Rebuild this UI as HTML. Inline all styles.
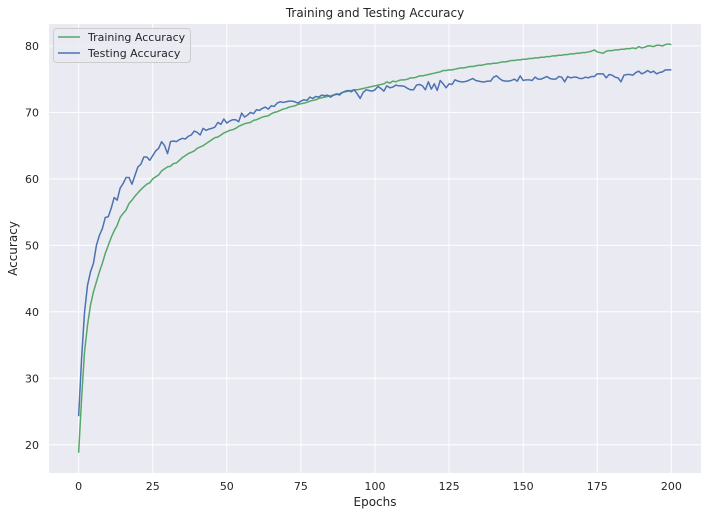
<!DOCTYPE html>
<html><head><meta charset="utf-8"><style>
body{margin:0;background:#fff;}
svg text{font-family:"DejaVu Sans","Liberation Sans",sans-serif;fill:#262626;}
</style></head><body>
<svg id="chart" width="707" height="516" xmlns="http://www.w3.org/2000/svg"></svg>
<script>
const xTicks=[0,25,50,75,100,125,150,175,200];
const yTicks=[20,30,40,50,60,70,80];
const train=[18.8,27,34,38,41,43,44.5,46,47.3,48.8,
50,51.2,52.2,53,54.2,54.8,55.3,56.3,56.8,57.4,
57.9,58.4,58.8,59.2,59.4,60,60.3,60.6,61.2,61.5,
61.8,61.9,62.3,62.4,62.8,63.2,63.5,63.8,64,64.2,
64.6,64.8,65,65.3,65.6,65.9,66.2,66.3,66.6,66.9,
67.1,67.3,67.4,67.6,67.9,68.1,68.3,68.4,68.5,68.8,
68.9,69.1,69.3,69.4,69.5,69.8,70.0,70.1,70.3,70.5,
70.6,70.8,70.9,71.0,71.2,71.3,71.4,71.5,71.7,71.8,
71.9,72.1,72.2,72.3,72.4,72.5,72.6,72.7,72.8,73.0,
73.1,73.2,73.3,73.4,73.4,73.5,73.6,73.7,73.8,73.9,
74.0,74.1,74.2,74.3,74.6,74.4,74.7,74.6,74.8,74.9,
74.9,75.0,75.2,75.2,75.3,75.5,75.5,75.6,75.7,75.8,
75.9,76.0,76.1,76.3,76.3,76.4,76.4,76.5,76.6,76.7,
76.7,76.8,76.9,76.9,77.0,77.1,77.1,77.2,77.3,77.3,
77.4,77.4,77.5,77.6,77.6,77.7,77.8,77.8,77.9,77.9,
78.0,78.0,78.1,78.1,78.2,78.2,78.3,78.3,78.4,78.4,
78.5,78.5,78.6,78.6,78.7,78.7,78.8,78.8,78.9,78.9,
79.0,79.0,79.1,79.2,79.4,79.1,79.0,78.9,79.2,79.3,
79.3,79.4,79.4,79.5,79.5,79.6,79.6,79.7,79.6,79.9,
79.7,79.8,80.0,80.0,79.9,80.1,80.1,80.0,80.2,80.3,80.2];
const test=[24.3,33,40,44,46,47.3,50,51.5,52.5,54.2,
54.3,55.6,57.2,56.8,58.6,59.3,60.2,60.2,59.2,60.5,
61.8,62.2,63.3,63.3,62.8,63.5,64.2,64.6,65.6,65,
63.8,65.6,65.7,65.6,65.9,66.1,66,66.4,66.6,67.2,
67,66.6,67.6,67.3,67.5,67.6,67.8,68.5,68.2,69,
68.4,68.7,68.9,68.9,68.6,
69.9,69.3,69.6,70.0,69.8,70.4,70.3,70.6,70.8,70.5,
71.0,70.9,71.4,71.6,71.5,71.6,71.7,71.7,71.6,71.4,
71.7,71.9,71.8,72.3,72.1,72.4,72.3,72.6,72.5,72.6,
72.3,72.6,72.8,72.6,73.0,73.2,73.3,73.1,73.4,72.8,
72.1,73.0,73.4,73.3,73.2,73.4,73.9,73.6,73.2,74.0,
73.7,73.8,74.1,74.0,74.0,73.9,73.6,73.4,73.4,74.1,
74.2,74.0,73.4,74.6,73.5,74.3,73.3,74.8,74.3,73.7,
74.3,74.2,74.9,74.7,74.6,74.6,74.7,74.9,75.1,74.8,
74.7,74.6,74.6,74.7,74.7,75.3,75.5,75.1,74.8,74.7,
74.7,74.8,75.0,74.7,75.5,74.8,74.9,74.9,74.8,75.3,
75.0,75.0,75.2,75.4,75.1,75.0,75.0,75.4,75.3,74.6,
75.4,75.2,75.3,75.3,75.1,75.1,75.3,75.2,75.4,75.4,
75.8,75.8,75.8,75.2,75.7,75.6,75.3,75.2,74.6,75.6,
75.7,75.7,75.6,76.0,76.2,75.8,76.0,76.3,76.0,76.2,
75.8,76.0,76.1,76.4,76.4,76.4];

const NS='http://www.w3.org/2000/svg';
const svg=document.getElementById('chart');
const L=49,R=701,T=24,B=473;
const xMin=-10,xMax=210,yMin=15.75,yMax=83.3;
const xs=v=>L+(v-xMin)/(xMax-xMin)*(R-L);
const ys=v=>B-(v-yMin)/(yMax-yMin)*(B-T);
function mk(tag,attrs,parent){const e=document.createElementNS(NS,tag);for(const k in attrs)e.setAttribute(k,attrs[k]);(parent||svg).appendChild(e);return e;}

const bg=mk('rect',{x:L,y:T,width:R-L,height:B-T,fill:'#eaeaf2'});



xTicks.forEach(t=>{
  const g=mk('line',{x1:xs(t),x2:xs(t),y1:T,y2:B,stroke:'#fff','stroke-width':1});
  
  
  const tx=mk('text',{x:xs(t),y:B+17,'text-anchor':'middle','font-size':'11'});
  tx.textContent=t;
  
  
});
yTicks.forEach(t=>{
  const g=mk('line',{x1:L,x2:R,y1:ys(t),y2:ys(t),stroke:'#fff','stroke-width':1});
  
  
  const tx=mk('text',{x:L-10,y:ys(t)+4,'text-anchor':'end','font-size':'11'});
  tx.textContent=t;
  
  
});

function series(arr,color,name){
  const d=arr.map((v,i)=>(i?'L':'M')+xs(i).toFixed(2)+','+ys(v).toFixed(2)).join('');
  const p=mk('path',{d:d,fill:'none',stroke:color,'stroke-width':1.5,'stroke-linejoin':'round'});
  
  
}
series(train,'#55a868','training-accuracy-line');
series(test,'#4c72b0','testing-accuracy-line');

const title=mk('text',{x:(L+R)/2,y:17,'text-anchor':'middle','font-size':'12'});
title.textContent='Training and Testing Accuracy';


const xl=mk('text',{x:(L+R)/2,y:506,'text-anchor':'middle','font-size':'12'});
xl.textContent='Epochs';


const yl=mk('text',{x:0,y:0,'text-anchor':'middle','font-size':'12',transform:'translate(17,'+((T+B)/2)+') rotate(-90)'});
yl.textContent='Accuracy';



const lg=mk('g',{});


mk('rect',{x:53.5,y:28.5,width:137,height:34,rx:3,fill:'#eaeaf2','fill-opacity':0.8,stroke:'#cccccc'},lg);
[['Training Accuracy','#55a868',37],['Testing Accuracy','#4c72b0',53]].forEach(([n,c,y])=>{
  const e=mk('g',{},lg);
  
  
  mk('line',{x1:58,x2:80,y1:y,y2:y,stroke:c,'stroke-width':1.5},e);
  const t=mk('text',{x:88,y:y+4,'font-size':'11'},e);
  t.textContent=n;
});
</script>
</body></html>
